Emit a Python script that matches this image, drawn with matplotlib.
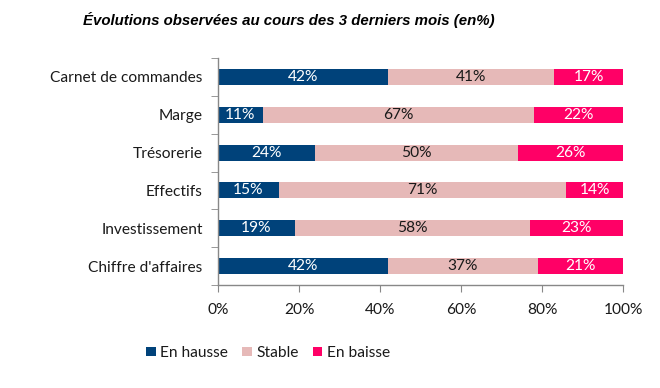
import matplotlib
matplotlib.use("Agg")
import matplotlib.pyplot as plt
import numpy as np
from matplotlib.ticker import FixedLocator

categories = ["Carnet de commandes", "Marge", "Trésorerie", "Effectifs",
              "Investissement", "Chiffre d'affaires"]
hausse = [42, 11, 24, 15, 19, 42]
stable = [41, 67, 50, 71, 58, 37]
baisse = [17, 22, 26, 14, 23, 21]
series_names = ["En hausse", "Stable", "En baisse"]
colors = ["#00427A", "#E6B9B8", "#FF0066"]
text_colors = ["white", "#1a1a1a", "white"]
xticks = [0, 20, 40, 60, 80, 100]

font = "Lato"
fs = 11.2
fig = plt.figure(figsize=(6.6, 3.88), dpi=100)
ax = fig.add_axes([218/660, 1-285/388, (623-218)/660, (285-58)/388])

n = len(categories)
y = np.arange(n)[::-1]
left = np.zeros(n)
for vals, name, c, tc in zip([hausse, stable, baisse], series_names, colors, text_colors):
    vals = np.array(vals, dtype=float)
    ax.barh(y, vals, left=left, height=0.42, color=c, label=name)
    for yi, l, v in zip(y, left, vals):
        ax.text(l + v/2, yi, f"{int(v)}%", ha="center", va="center",
                color=tc, fontsize=fs, family=font)
    left += vals

ax.set_xlim(0, 100)
ax.set_ylim(-0.5, n - 0.5)
ax.set_yticks(y)
ax.set_yticklabels(categories, family=font, fontsize=fs, color="#1a1a1a")
ax.yaxis.set_minor_locator(FixedLocator(np.arange(-0.5, n, 1.0)))
ax.tick_params(axis="y", which="major", length=0, pad=11)
ax.tick_params(axis="y", which="minor", length=5, color="#888888", direction="out")
ax.set_xticks(xticks)
ax.set_xticklabels([f"{t}%" for t in xticks], family=font, fontsize=fs, color="#1a1a1a")
ax.tick_params(axis="x", length=5, color="#888888", pad=8)
for s in ["top", "right"]:
    ax.spines[s].set_visible(False)
for s in ["left", "bottom"]:
    ax.spines[s].set_color("#888888")
    ax.spines[s].set_linewidth(1)

fig.text(83/660, 1-20/388, "Évolutions observées au cours des 3 derniers mois (en%)",
         family="Liberation Sans", fontsize=10.8, fontweight="bold", style="italic",
         ha="left", va="center")

leg = fig.legend(*ax.get_legend_handles_labels(), loc="center", ncol=3,
                 bbox_to_anchor=(268/660, 1-353/388), frameon=False,
                 prop={"family": font, "size": fs}, handlelength=0.6, handleheight=0.6,
                 handletextpad=0.3, columnspacing=0.9)
for t in leg.get_texts():
    t.set_color("#1a1a1a")

fig.savefig("out.png", dpi=100)
